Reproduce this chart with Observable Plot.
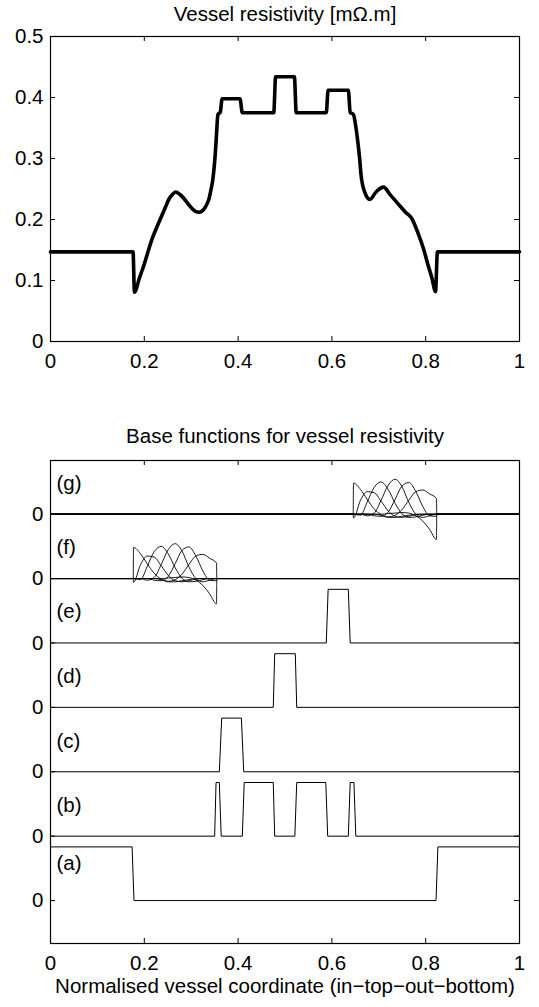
<!DOCTYPE html>
<html><head><meta charset="utf-8">
<script src="https://cdn.jsdelivr.net/npm/d3@7"></script>
<script src="https://cdn.jsdelivr.net/npm/@observablehq/plot@0.6"></script>
<style>html,body{margin:0;padding:0;background:#fff;} svg{display:block;}</style>
</head><body><div id="chart"></div>
<script>
// ---------- data ----------
const xTicks = [0, 0.2, 0.4, 0.6, 0.8, 1];
const topYTicks = [0, 0.1, 0.2, 0.3, 0.4, 0.5];

// Vessel resistivity profile
const resX = [0, 0.176, 0.179, 0.190, 0.200, 0.209, 0.218, 0.227, 0.236, 0.245, 0.253, 0.260, 0.267, 0.276, 0.285, 0.294, 0.303, 0.310, 0.317, 0.325, 0.332, 0.338, 0.342, 0.346, 0.349, 0.352, 0.354, 0.357, 0.362, 0.366, 0.404, 0.409, 0.476, 0.480, 0.520, 0.524, 0.588, 0.592, 0.635, 0.639, 0.646, 0.650, 0.655, 0.659, 0.662, 0.669, 0.681, 0.694, 0.710, 0.725, 0.743, 0.757, 0.770, 0.784, 0.795, 0.804, 0.813, 0.821, 0.825, 1];
const resY = [0.147, 0.147, 0.081, 0.105, 0.127, 0.150, 0.171, 0.188, 0.204, 0.220, 0.234, 0.241, 0.245, 0.241, 0.234, 0.225, 0.217, 0.213, 0.212, 0.215, 0.223, 0.234, 0.248, 0.265, 0.286, 0.315, 0.340, 0.372, 0.376, 0.398, 0.398, 0.375, 0.375, 0.434, 0.434, 0.375, 0.375, 0.412, 0.412, 0.376, 0.372, 0.357, 0.329, 0.301, 0.274, 0.247, 0.233, 0.245, 0.253, 0.240, 0.224, 0.212, 0.202, 0.177, 0.153, 0.128, 0.105, 0.082, 0.147, 0.147];

// Base functions (a)-(e): piecewise pulses
const aX = [0, 0.174, 0.178, 0.822, 0.826, 1];
const aY = [1, 1, 0, 0, 1, 1];
const bX = [0, 0.350, 0.353, 0.360, 0.364, 0.409, 0.413, 0.475, 0.478, 0.521, 0.525, 0.587, 0.591, 0.635, 0.639, 0.647, 0.651, 1];
const bY = [0, 0, 1, 1, 0, 0, 1, 1, 0, 0, 1, 1, 0, 0, 1, 1, 0, 0];
const cX = [0, 0.360, 0.365, 0.407, 0.412, 1];
const cY = [0, 0, 1, 1, 0, 0];
const dX = [0, 0.475, 0.478, 0.522, 0.525, 1];
const dY = [0, 0, 1, 1, 0, 0];
const eX = [0, 0.588, 0.592, 0.635, 0.639, 1];
const eY = [0, 0, 1, 1, 0, 0];

// Smooth base functions (f) and (g): sample positions and values
const fX = [0.177, 0.192, 0.206, 0.221, 0.236, 0.251, 0.266, 0.280, 0.295, 0.310, 0.325, 0.339, 0.354];
const gX = [0.646, 0.661, 0.675, 0.690, 0.705, 0.720, 0.735, 0.749, 0.764, 0.779, 0.794, 0.808, 0.823];
const wig1 = [0.58, 0.46, 0.28, 0.10, -0.01, -0.06, -0.06, -0.04, -0.02, 0, 0, 0, 0];
const wig2 = [-0.07, 0.26, 0.42, 0.40, 0.24, 0.06, -0.04, -0.06, -0.04, -0.01, 0, 0, 0];
const wig3 = [0, -0.02, 0.22, 0.50, 0.60, 0.46, 0.20, 0.01, -0.06, -0.05, -0.02, 0, 0];
const wig4 = [0, 0, -0.03, 0.02, 0.26, 0.54, 0.65, 0.52, 0.22, 0.0, -0.06, -0.03, 0];
const wig5 = [0, 0, 0, -0.03, -0.04, 0.04, 0.28, 0.52, 0.59, 0.42, 0.14, -0.03, -0.04];
const wig6 = [0, 0, 0, 0, -0.02, -0.05, -0.02, 0.08, 0.26, 0.42, 0.45, 0.38, 0.29];
const wig7 = [0, 0, 0, 0, 0, 0.01, 0.02, 0.03, 0.02, -0.03, -0.13, -0.28, -0.47];

const panelNames = ["(a)", "(b)", "(c)", "(d)", "(e)", "(f)", "(g)"];
const panelOffsets = [0, 1.2, 2.4, 3.6, 4.8, 6.0, 7.2];
const labelLift = [0.70, 0.58, 0.57, 0.58, 0.58, 0.58, 0.57];

const topTitle = "Vessel resistivity [mΩ.m]";
const bottomTitle = "Base functions for vessel resistivity";
const xLabel = "Normalised vessel coordinate (in\u2212top\u2212out\u2212bottom)";

// ---------- build ----------
const FONT = "'Liberation Sans', Arial, Helvetica, sans-serif";
const FS = 20.5;
const W = 539;
const mL = 50, mR = 20;
const fw = W - mL - mR;
const fmt = d => String(d);

const resData = resX.map((x, i) => ({x, y: resY[i]}));

const topH = 400, topMT = 36, topMB = 59;
const topFH = topH - topMT - topMB;

const topChart = Plot.plot({
  width: W, height: topH,
  marginLeft: mL, marginRight: mR, marginTop: topMT, marginBottom: topMB,
  style: {fontFamily: FONT, fontSize: FS + "px", color: "black", background: "white", overflow: "visible"},
  x: {domain: [0, 1]},
  y: {domain: [0, 0.5]},
  marks: [
    Plot.line(resData, {x: "x", y: "y", stroke: "black", strokeWidth: 3.6, curve: "monotone-x", strokeLinejoin: "round"}),
    Plot.frame({stroke: "black", strokeWidth: 1.2}),
    Plot.ruleX(xTicks, {x: d => d, insetTop: topFH - 5, stroke: "black"}),
    Plot.ruleX(xTicks, {x: d => d, insetBottom: topFH - 5, stroke: "black"}),
    Plot.ruleY(topYTicks, {y: d => d, insetRight: fw - 5, stroke: "black"}),
    Plot.ruleY(topYTicks, {y: d => d, insetLeft: fw - 5, stroke: "black"}),
    Plot.axisX(xTicks, {tickSize: 0, tickPadding: 12, label: null, tickFormat: fmt, fontSize: FS}),
    Plot.axisY(topYTicks, {tickSize: 0, tickPadding: 7, label: null, tickFormat: fmt, fontSize: FS}),
    Plot.text([topTitle], {text: d => d, frameAnchor: "top", dy: -22, lineAnchor: "middle", fontSize: FS})
  ]
});

const pulseX = [aX, bX, cX, dX, eX];
const pulseY = [aY, bY, cY, dY, eY];
const pulseRows = [];
pulseX.forEach((xs, k) => xs.forEach((x, i) => pulseRows.push({k, x, y: pulseY[k][i] + panelOffsets[k]})));

const wiggles = [wig1, wig2, wig3, wig4, wig5, wig6, wig7];
const wigRows = [];
[[fX, 5], [gX, 6]].forEach(([xs, p]) => {
  const off = panelOffsets[p];
  const x0 = xs[0], x1 = xs[xs.length - 1];
  wiggles.forEach((vals, j) => {
    const key = p + "-" + j;
    wigRows.push({key, x: 0, y: off});
    wigRows.push({key, x: x0 - 0.0006, y: off});
    vals.forEach((v, i) => wigRows.push({key, x: xs[i], y: v + off}));
    wigRows.push({key, x: x1 + 0.0006, y: off});
    wigRows.push({key, x: 1, y: off});
  });
});

const labelRows = panelNames.map((t, i) => ({t, y: panelOffsets[i] + labelLift[i]}));

const botH = 607, botMT = 60, botMB = 64;
const botFH = botH - botMT - botMB;

const bottomChart = Plot.plot({
  width: W, height: botH,
  marginLeft: mL, marginRight: mR, marginTop: botMT, marginBottom: botMB,
  style: {fontFamily: FONT, fontSize: FS + "px", color: "black", background: "white", overflow: "visible"},
  x: {domain: [0, 1]},
  y: {domain: [-0.8, 8.2]},
  marks: [
    Plot.line(pulseRows, {x: "x", y: "y", z: "k", stroke: "black", strokeWidth: 1, curve: "linear"}),
    Plot.line(wigRows, {x: "x", y: "y", z: "key", stroke: "black", strokeWidth: 0.9, curve: "monotone-x"}),
    Plot.frame({stroke: "black", strokeWidth: 1.2}),
    Plot.ruleX(xTicks, {x: d => d, insetTop: botFH - 5, stroke: "black"}),
    Plot.ruleX(xTicks, {x: d => d, insetBottom: botFH - 5, stroke: "black"}),
    Plot.ruleY(panelOffsets, {y: d => d, insetRight: fw - 5, stroke: "black"}),
    Plot.ruleY(panelOffsets, {y: d => d, insetLeft: fw - 5, stroke: "black"}),
    Plot.axisX(xTicks, {tickSize: 0, tickPadding: 12, label: null, tickFormat: fmt, fontSize: FS}),
    Plot.axisY(panelOffsets, {tickSize: 0, tickPadding: 7, label: null, tickFormat: () => "0", fontSize: FS}),
    Plot.text(labelRows, {y: "y", text: "t", frameAnchor: "left", dx: 6, textAnchor: "start", fontSize: FS}),
    Plot.text([bottomTitle], {text: d => d, frameAnchor: "top", dy: -24, lineAnchor: "middle", fontSize: FS}),
    Plot.text([xLabel], {text: d => d, frameAnchor: "bottom", dy: 43, lineAnchor: "middle", fontSize: FS})
  ]
});

const root = document.getElementById("chart");
root.appendChild(topChart);
root.appendChild(bottomChart);
</script>
</body></html>
